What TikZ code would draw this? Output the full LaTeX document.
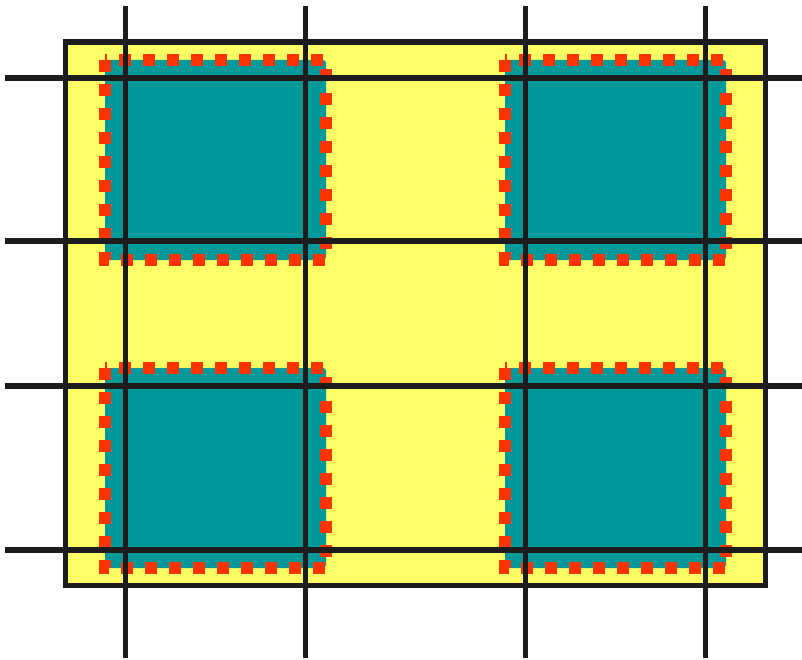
\documentclass[tikz,border=0pt]{standalone}
\definecolor{bgyellow}{RGB}{255,255,102}
\definecolor{tealfill}{RGB}{0,153,153}
\definecolor{reddash}{RGB}{255,51,0}
\definecolor{gridblack}{RGB}{28,28,28}
\tikzset{
  outerbox/.style={fill=bgyellow, draw=gridblack, line width=5.5pt},
  tealbox/.style={fill=tealfill, rounded corners=3pt},
  dashedge/.style={draw=reddash, line width=12pt, dash pattern=on 12pt off 12pt},
  gridline/.style={draw=gridblack, line width=5.5pt}
}
\begin{document}
\begin{tikzpicture}[x=1pt,y=-1pt]
\useasboundingbox (0,0) rectangle (802,660);
% outer yellow rectangle
\draw[outerbox] (65.5,42) rectangle (765.5,585.5);
% teal squares and red dashed borders
\foreach \xa/\ya [count=\i] in {105/60, 505/60, 105/368, 505/368} {
  \pgfmathsetmacro{\xb}{\xa+221}
  \pgfmathsetmacro{\yb}{\ya+200}
  \fill[tealbox] (\xa,\ya) rectangle (\xb,\yb);
  \coordinate (tl\i) at (\xa,\ya);
  \coordinate (bl\i) at (\xa,\yb);
  \coordinate (br\i) at (\xb,\yb);
  \coordinate (tr\i) at (\xb,\ya);
  \draw[dashedge] (tl\i) -- (bl\i) -- (br\i) -- (tr\i) -- cycle;
}
% grid lines
\foreach \x [count=\i] in {125.5,305.5,525.5,705.5} {
  \coordinate (vt\i) at (\x,6);
  \coordinate (vb\i) at (\x,658);
  \draw[gridline] (vt\i) -- (vb\i);
}
\foreach \y [count=\i] in {78,241,386,550} {
  \coordinate (hl\i) at (5,\y);
  \coordinate (hr\i) at (802,\y);
  \draw[gridline] (hl\i) -- (hr\i);
}
\end{tikzpicture}
\end{document}
